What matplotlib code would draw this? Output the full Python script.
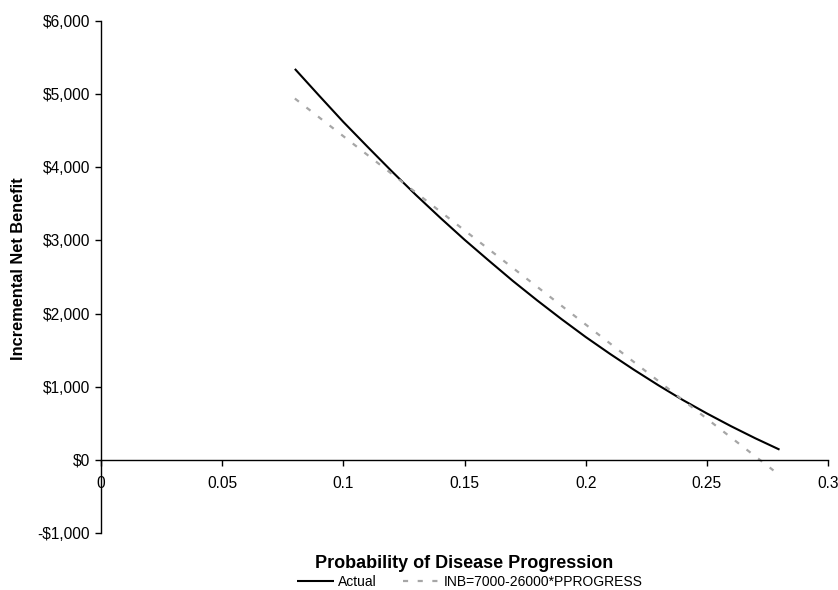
import matplotlib
matplotlib.use("Agg")
import matplotlib.pyplot as plt
from matplotlib.ticker import FuncFormatter

# Data
p_actual = [0.08, 0.09, 0.10, 0.11, 0.12, 0.13, 0.14, 0.15, 0.16, 0.17, 0.18,
            0.19, 0.20, 0.21, 0.22, 0.23, 0.24, 0.25, 0.26, 0.27, 0.28]
inb_actual = [5345, 4980, 4620, 4280, 3945, 3620, 3310, 3010, 2725, 2445, 2180,
              1925, 1680, 1450, 1230, 1020, 820, 635, 460, 295, 140]
p_fit = [0.08, 0.2775]
inb_fit = [4940, -145]

x_ticks = [0, 0.05, 0.1, 0.15, 0.2, 0.25, 0.3]
y_ticks = [-1000, 0, 1000, 2000, 3000, 4000, 5000, 6000]

series_labels = ["Actual", "INB=7000-26000*PPROGRESS"]
x_title = "Probability of Disease Progression"
y_title = "Incremental Net Benefit"

plt.rcParams['font.family'] = ['Liberation Sans', 'DejaVu Sans']

fig = plt.figure(figsize=(8.38, 5.90), dpi=100)
ax = fig.add_axes([101/838, 1 - 533/590, 727/838, 512/590])

ax.plot(p_actual, inb_actual, color='black', lw=1.5, label=series_labels[0],
        solid_capstyle='butt')
ax.plot(p_fit, inb_fit, color='#a6a6a6', lw=1.6, dashes=(2.3, 4.3),
        label=series_labels[1])

ax.set_xlim(0, 0.3)
ax.set_ylim(-1000, 6000)
ax.set_xticks(x_ticks)
ax.set_yticks(y_ticks)
ax.xaxis.set_major_formatter(FuncFormatter(lambda v, pos: f"{v:g}"))
ax.yaxis.set_major_formatter(FuncFormatter(
    lambda v, pos: f"-${abs(v):,.0f}" if v < 0 else f"${v:,.0f}"))

ax.spines['top'].set_visible(False)
ax.spines['right'].set_visible(False)
ax.spines['bottom'].set_position(('data', 0))
for s in ('left', 'bottom'):
    ax.spines[s].set_linewidth(1.0)
ax.tick_params(axis='both', direction='out', length=4, width=1.0,
               labelsize=11.2, colors='black')
ax.tick_params(axis='x', pad=7.5)
ax.tick_params(axis='y', pad=4)

ax.set_ylabel(y_title, fontsize=11.8, fontweight='bold', ha='center', va='center')
ax.yaxis.set_label_coords(-0.1128, 0.517)
ax.set_xlabel(x_title, fontsize=13, fontweight='bold')
ax.xaxis.set_label_coords(0.5, -0.059)
ax.xaxis.label.set_va('center')

fig.legend(loc='center', bbox_to_anchor=(470/838, 1 - 582/590), ncol=2,
           frameon=False, fontsize=10, handlelength=2.66, handletextpad=0.3,
           columnspacing=1.9, borderaxespad=0, borderpad=0)

fig.savefig("out.png", dpi=100)
